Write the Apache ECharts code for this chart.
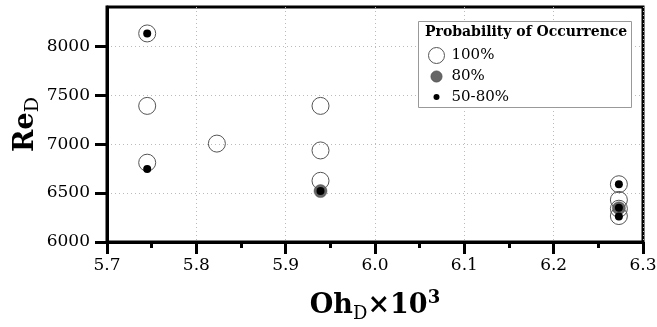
<!DOCTYPE html>
<html>
<head>
<meta charset="utf-8">
<script src="https://cdn.jsdelivr.net/npm/echarts@6/dist/echarts.min.js"></script>
<style>
html,body{margin:0;padding:0;background:#fff;}
#chart{width:657px;height:327px;}
</style>
</head>
<body>
<div id="chart"></div>
<script>
// ---- data ----
const xTicks = [5.7, 5.8, 5.9, 6.0, 6.1, 6.2, 6.3];
const yTicks = [6000, 6500, 7000, 7500, 8000];
const legendNames = ['100%', '80%', '50-80%'];
// 100% probability (open circles)
const prob100 = [[5.745, 8130], [5.745, 7390], [5.745, 6810], [5.823, 7005],
                 [5.939, 7390], [5.939, 6935], [5.939, 6625],
                 [6.273, 6590], [6.273, 6430], [6.273, 6340], [6.273, 6265]];
// 80% probability (grey discs)
const prob80 = [[5.939, 6520], [6.273, 6345]];
// 50-80% probability (black dots)
const prob50to80 = [[5.745, 8130], [5.745, 6745], [5.939, 6520],
                    [6.273, 6590], [6.273, 6350], [6.273, 6260]];

const FONT = 'DejaVu Serif';
const chart = echarts.init(document.getElementById('chart'), null, {renderer: 'canvas'});

const iconOpen = 'path://M0,0M20,20M18,10A8,8,0,1,1,2,10A8,8,0,1,1,18,10Z';
const iconGray = 'path://M0,0M20,20M15.5,10A5.5,5.5,0,1,1,4.5,10A5.5,5.5,0,1,1,15.5,10Z';
const iconDot  = 'path://M0,0M20,20M13,10A3,3,0,1,1,7,10A3,3,0,1,1,13,10Z';

const gridLine = {show: true, lineStyle: {type: [1, 3], color: '#bbb', width: 1}};

const option = {
  animation: false,
  backgroundColor: '#fff',
  grid: {left: 107, right: 14, top: 7, bottom: 85, show: true, containLabel: false,
         outerBoundsMode: 'none',
         borderColor: '#000', borderWidth: 3, backgroundColor: 'transparent'},
  xAxis: {
    type: 'value', min: xTicks[0], max: xTicks[xTicks.length - 1], interval: 0.1,
    name: '{b|Oh}{s|D}{b|\u00d710}{p|3}',
    nameLocation: 'middle', nameGap: 47, nameMoveOverlap: false,
    nameTextStyle: {
      rich: {
        b: {fontFamily: FONT, fontWeight: 'bold', fontSize: 27, lineHeight: 34, color: '#000'},
        s: {fontFamily: FONT, fontSize: 18, lineHeight: 20, verticalAlign: 'bottom', color: '#000'},
        p: {fontFamily: FONT, fontWeight: 'bold', fontSize: 18, lineHeight: 22, verticalAlign: 'top', color: '#000'}
      }
    },
    axisLine: {show: true, lineStyle: {color: '#000', width: 3}},
    axisTick: {show: true, inside: false, length: 12, lineStyle: {color: '#000', width: 3}},
    minorTick: {show: true, splitNumber: 2, length: 6, lineStyle: {color: '#000', width: 3}},
    axisLabel: {margin: 15, fontFamily: FONT, fontSize: 17, color: '#000',
                formatter: v => v.toFixed(1)},
    splitLine: gridLine,
    minorSplitLine: {show: false}
  },
  yAxis: {
    type: 'value', min: 6000, max: 8400, interval: 500,
    name: '{b|Re}{s|D}',
    nameLocation: 'middle', nameGap: 64, nameRotate: 90, nameMoveOverlap: false,
    nameTextStyle: {
      rich: {
        b: {fontFamily: FONT, fontWeight: 'bold', fontSize: 27, lineHeight: 34, color: '#000'},
        s: {fontFamily: FONT, fontSize: 19, lineHeight: 29, verticalAlign: 'bottom', color: '#000'}
      }
    },
    axisLine: {show: true, lineStyle: {color: '#000', width: 3}},
    axisTick: {show: true, inside: false, length: 12, lineStyle: {color: '#000', width: 3},
               customValues: yTicks},
    axisLabel: {margin: 17, fontFamily: FONT, fontSize: 17, color: '#000',
                customValues: yTicks, formatter: v => String(v)},
    splitLine: gridLine
  },
  legend: {
    orient: 'vertical', left: 426, top: 45, z: 10,
    itemWidth: 20, itemHeight: 20, itemGap: 0,
    padding: 0,
    itemStyle: {borderWidth: 1},
    data: [
      {name: legendNames[0], icon: iconOpen},
      {name: legendNames[1], icon: iconGray},
      {name: legendNames[2], icon: iconDot}
    ],
    textStyle: {fontFamily: FONT, fontSize: 15, lineHeight: 18, color: '#000', padding: [0, 0, 0, 0]}
  },
  graphic: [
    {type: 'rect', z: 5, shape: {x: 418.5, y: 21.5, width: 213, height: 86},
     style: {fill: '#fff', stroke: '#999', lineWidth: 1}},
    {type: 'text', z: 11, x: 425, y: 25,
     style: {text: 'Probability of Occurrence', font: 'bold 14px "DejaVu Serif"', fill: '#000',
             textVerticalAlign: 'top', verticalAlign: 'top'}}
  ],
  series: [
    {name: legendNames[1], type: 'scatter', data: prob80, symbol: 'circle', symbolSize: 13, z: 2,
     itemStyle: {color: '#666', borderColor: '#555', borderWidth: 0.5, opacity: 1}},
    {name: legendNames[0], type: 'scatter', data: prob100, symbol: 'circle', symbolSize: 17, z: 3,
     itemStyle: {color: 'rgba(255,255,255,0)', borderColor: '#555', borderWidth: 1, opacity: 1}},
    {name: legendNames[2], type: 'scatter', data: prob50to80, symbol: 'circle', symbolSize: 8, z: 4,
     itemStyle: {color: '#000', opacity: 1}}
  ]
};
chart.setOption(option);
</script>
</body>
</html>
